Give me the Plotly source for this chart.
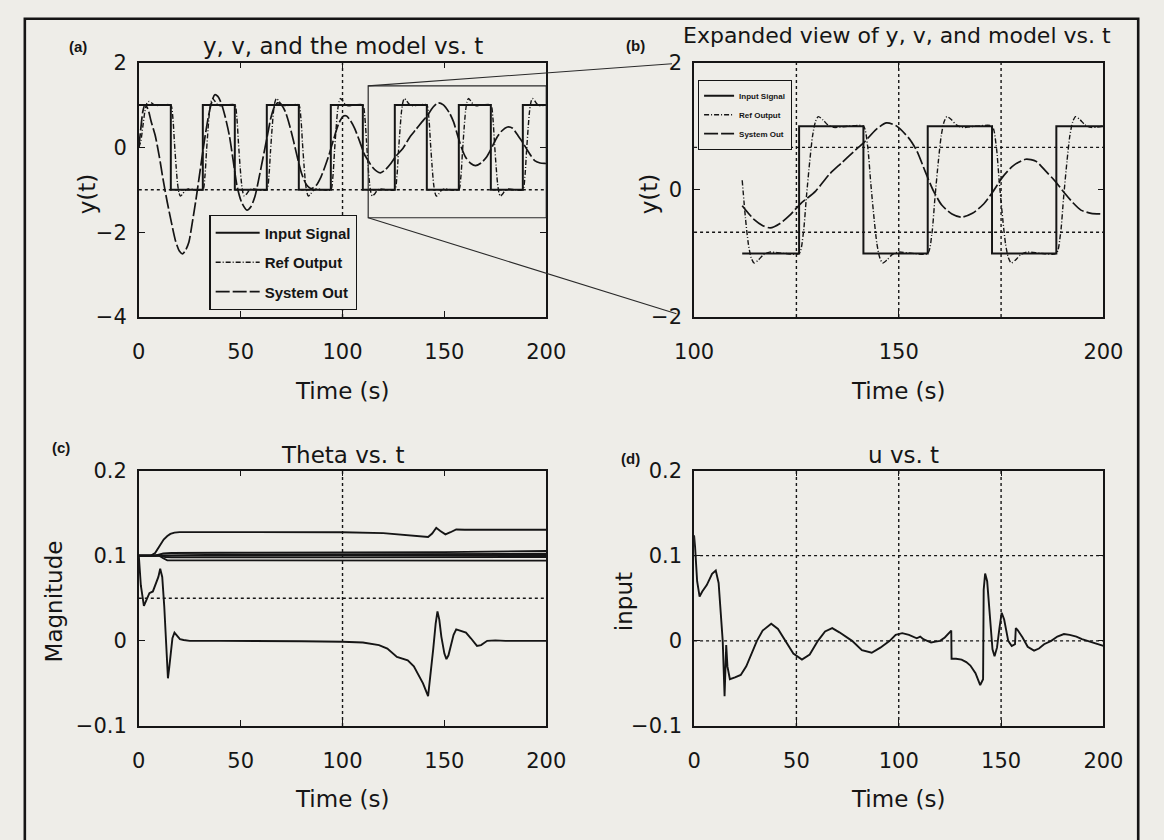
import plotly.graph_objects as go

BG = "#eeede8"
INK = "#151515"
FONT = "DejaVu Sans"
BOLD = "Liberation Sans"

# ---------------- data ----------------
# square-wave command signal
t_input = [0, 15.71, 15.71, 31.42, 31.42, 47.12, 47.12, 62.83, 62.83, 78.54,
           78.54, 94.25, 94.25, 109.96, 109.96, 111.76, 125.66, 125.66, 141.37, 141.37,
           157.08, 157.08, 172.79, 172.79, 188.50, 188.50, 200]
y_input = [1, 1, -1, -1, 1, 1, -1, -1, 1, 1,
           -1, -1, 1, 1, -1, -1, -1, 1, 1, -1,
           -1, 1, 1, -1, -1, 1, 1]

# reference model output
t_ref = [0, 1, 2, 3, 4, 5, 6.5, 8, 10, 12.5,
         15.71, 16.71, 17.51, 18.31, 19.01, 19.71, 20.41, 21.51, 22.71, 24.21, 27.71,
         31.42, 32.42, 33.22, 34.02, 34.72, 35.42, 36.12, 37.22, 38.42, 39.92, 43.42,
         47.12, 48.12, 48.92, 49.72, 50.42, 51.12, 51.82, 52.92, 54.12, 55.62, 59.12,
         62.83, 63.83, 64.63, 65.43, 66.13, 66.83, 67.53, 68.63, 69.83, 71.33, 74.83,
         78.54, 79.54, 80.34, 81.14, 81.84, 82.54, 83.24, 84.34, 85.54, 87.04, 90.54,
         94.25, 95.25, 96.05, 96.85, 97.55, 98.25, 98.95, 100.05, 101.25, 102.75, 106.25,
         109.96, 110.96, 111.76, 112.56, 113.26, 113.96, 114.66, 115.76, 116.96, 118.46, 121.96,
         125.66, 126.66, 127.46, 128.26, 128.96, 129.66, 130.36, 131.46, 132.66, 134.16, 137.66,
         141.37, 142.37, 143.17, 143.97, 144.67, 145.37, 146.07, 147.17, 148.37, 149.87, 153.37,
         157.08, 158.08, 158.88, 159.68, 160.38, 161.08, 161.78, 162.88, 164.08, 165.58, 169.08,
         172.79, 173.79, 174.59, 175.39, 176.09, 176.79, 177.49, 178.59, 179.79, 181.29, 184.79,
         188.50, 189.50, 190.30, 191.10, 191.80, 192.50, 193.20, 194.30, 195.50, 197.00, 200.00]
y_ref = [0, 0.15, 0.5, 0.85, 1.04, 1.08, 1.04, 0.99, 0.99, 1.0,
         1.0, 0.7, 0.1, -0.45, -0.85, -1.07, -1.15, -1.1, -1.02, -0.98, -1.0,
         -1.0, -0.7, -0.1, 0.45, 0.85, 1.07, 1.15, 1.1, 1.02, 0.98, 1.0,
         1.0, 0.7, 0.1, -0.45, -0.85, -1.07, -1.15, -1.1, -1.02, -0.98, -1.0,
         -1.0, -0.7, -0.1, 0.45, 0.85, 1.07, 1.15, 1.1, 1.02, 0.98, 1.0,
         1.0, 0.7, 0.1, -0.45, -0.85, -1.07, -1.15, -1.1, -1.02, -0.98, -1.0,
         -1.0, -0.7, -0.1, 0.45, 0.85, 1.07, 1.15, 1.1, 1.02, 0.98, 1.0,
         1.0, 0.7, 0.15, -0.45, -0.85, -1.07, -1.15, -1.1, -1.02, -0.98, -1.0,
         -1.0, -0.7, -0.1, 0.45, 0.85, 1.07, 1.15, 1.1, 1.02, 0.98, 1.0,
         1.0, 0.7, 0.1, -0.45, -0.85, -1.07, -1.15, -1.1, -1.02, -0.98, -1.0,
         -1.0, -0.7, -0.1, 0.45, 0.85, 1.07, 1.15, 1.1, 1.02, 0.98, 1.0,
         1.0, 0.7, 0.1, -0.45, -0.85, -1.07, -1.15, -1.1, -1.02, -0.98, -1.0,
         -1.0, -0.7, -0.1, 0.45, 0.85, 1.07, 1.15, 1.1, 1.02, 0.98, 1.0]

# plant (system) output
t_sys = [0, 1, 2, 3, 4.5, 6, 8, 10, 12, 14,
         16, 18, 20, 21.5, 23, 24.6, 26, 27.8, 29.5, 31,
         32.5, 34.1, 35.7, 37.3, 38.8, 40.4, 42.4, 44.4, 46.3, 48.3,
         50.5, 53.1, 55, 57, 59, 61, 63, 64.9, 66.5, 68.1,
         70, 72, 74, 76, 78, 80, 82.3, 84.7, 87, 89.4,
         91.4, 93.4, 95.7, 98.1, 100.5, 102, 104, 106, 108.5, 110.8,
         111.76, 114.7, 116.7, 118.6, 121, 123.4, 126, 129.7, 133, 136,
         139, 141.6, 144.5, 147, 149.5, 152.6, 154.5, 156.5, 158.5, 160.5,
         163, 165.3, 168, 170.8, 173, 175.5, 178, 181, 183.5, 185.8,
         188, 190.5, 192.5, 194.5, 197, 199.2, 200]
y_sys = [0, 0.45, 0.85, 1.0, 0.9, 0.62, 0.29, -0.2, -0.78, -1.3,
         -1.77, -2.2, -2.45, -2.51, -2.42, -2.23, -1.85, -1.31, -0.75, -0.24,
         0.25, 0.71, 1.05, 1.24, 1.2, 1.05, 0.72, 0.29, -0.3, -0.93,
         -1.3, -1.48, -1.4, -1.16, -0.72, -0.24, 0.25, 0.71, 0.95, 1.05,
         1.0, 0.83, 0.52, 0.14, -0.27, -0.63, -0.88, -0.97, -0.9, -0.7,
         -0.45, -0.17, 0.2, 0.56, 0.74, 0.74, 0.62, 0.44, 0.13, -0.17,
         -0.25, -0.47, -0.56, -0.6, -0.53, -0.4, -0.22, -0.02, 0.24, 0.42,
         0.6, 0.75, 0.95, 1.05, 1.0, 0.8, 0.6, 0.28, -0.02, -0.24,
         -0.38, -0.43, -0.37, -0.22, -0.03, 0.21, 0.38, 0.48, 0.45, 0.3,
         0.15, -0.05, -0.2, -0.32, -0.37, -0.38, -0.38]

# adaptive parameter estimates (theta)
t_th1 = [0, 6, 8, 10, 12.2, 14, 15.5, 17.5, 20, 40, 60, 80, 100, 120, 135, 142,
         144, 146, 148, 150.5, 153, 155.8, 160, 170, 185, 200]
y_th1 = [0.1, 0.1, 0.103, 0.11, 0.119, 0.123, 0.1255, 0.127, 0.1277, 0.1277, 0.1277,
         0.1277, 0.1275, 0.1265, 0.124, 0.122, 0.126, 0.1327, 0.129, 0.125, 0.1275,
         0.1308, 0.1305, 0.1303, 0.1305, 0.1305]
t_th2 = [0, 8, 12, 16, 40, 100, 150, 200]
y_th2 = [0.1, 0.1, 0.1025, 0.1032, 0.1035, 0.1037, 0.1042, 0.1055]
t_th3 = [0, 12, 40, 100, 150, 200]
y_th3 = [0.1, 0.1, 0.1012, 0.1015, 0.1018, 0.1022]
t_th4 = [0, 12, 40, 100, 150, 200]
y_th4 = [0.1, 0.1, 0.1, 0.1002, 0.1005, 0.1008]
t_th5 = [0, 10, 13, 16, 100, 200]
y_th5 = [0.1, 0.1, 0.0985, 0.098, 0.098, 0.0985]
t_th6 = [0, 10, 12, 14, 16, 100, 200]
y_th6 = [0.1, 0.1, 0.097, 0.0945, 0.0945, 0.0943, 0.0942]
t_th7 = [0, 1, 2.5, 4, 5.2, 6.9, 8.5, 9.6, 10.5, 11.5,
         12.5, 13.5, 14.3, 15, 15.7, 16.5, 17.5, 19, 20.2, 22,
         25, 40, 60, 80, 100, 110, 117.9, 122, 126.7, 129,
         132, 135, 137.3, 139.5, 142, 143.3, 144.5, 145.7, 146.6, 147.5,
         148.5, 150, 151, 152, 153, 154.5, 155.8, 158, 160.6, 163,
         166, 168, 171, 175, 180, 190, 200]
y_th7 = [0.1, 0.065, 0.041, 0.05, 0.056, 0.058, 0.068, 0.075, 0.0846, 0.075,
         0.04, 0.0, -0.044, -0.03, -0.013, 0.003, 0.0096, 0.006, 0.002, 0.001,
         0.0, 0.0, 0.0, -0.0005, -0.001, -0.002, -0.005, -0.009, -0.019, -0.021,
         -0.023, -0.03, -0.040, -0.05, -0.065, -0.04, -0.01, 0.02, 0.0346, 0.025,
         0.005, -0.015, -0.0215, -0.017, -0.007, 0.007, 0.0135, 0.012, 0.0096, 0.003,
         -0.006, -0.005, 0.0, 0.0005, 0.0, 0.0, 0.0]
theta_series = [(t_th1, y_th1), (t_th2, y_th2), (t_th3, y_th3), (t_th4, y_th4),
                (t_th5, y_th5), (t_th6, y_th6), (t_th7, y_th7)]

# control input u
t_u = [0, 0.5, 1.5, 2.7, 4, 6.2, 8.8, 10.6, 12, 13,
       14, 14.9, 15.71, 16.3, 17.5, 20, 22.8, 25.5, 28, 30.7,
       33.5, 37.7, 41, 44.8, 48.5, 52.7, 56.5, 60.5, 64, 67.5,
       71, 77.2, 82, 86.8, 91, 95.6, 98.5, 101.7, 105, 108.8,
       110.5, 112, 115.8, 118, 120.2, 122.5, 124.6, 125.66, 125.8, 128,
       130.7, 133, 135, 137.5, 139.8, 141.2, 141.5, 142.2, 143.2, 144.5,
       145.8, 146.8, 148, 149.2, 150.3, 151.5, 153.5, 155.2, 156.8, 157.2,
       158, 160.5, 163, 166.1, 168.5, 171, 174.5, 177.5, 180.7, 183.5,
       186.8, 189.5, 192, 196, 200]
y_u = [0.124, 0.11, 0.07, 0.052, 0.058, 0.0655, 0.0788, 0.0826, 0.068, 0.03,
       0.0, -0.065, -0.005, -0.03, -0.045, -0.043, -0.040, -0.03, -0.015, 0.0,
       0.012, 0.02, 0.014, 0.0, -0.015, -0.022, -0.016, 0.0, 0.011, 0.015,
       0.01, 0.0, -0.011, -0.014, -0.008, 0.0, 0.007, 0.009, 0.007, 0.003,
       0.005, 0.002, -0.002, -0.001, 0.0, 0.004, 0.01, 0.012, -0.021, -0.021,
       -0.022, -0.025, -0.029, -0.038, -0.052, -0.045, 0.06, 0.079, 0.07, 0.03,
       -0.01, -0.018, -0.008, 0.015, 0.033, 0.025, 0.0, -0.006, -0.004, 0.015,
       0.013, 0.004, -0.007, -0.0115, -0.009, -0.004, 0.0, 0.005, 0.008, 0.007,
       0.005, 0.002, 0.0, -0.003, -0.006]

# expanded window and the zoom box drawn on panel (a)
EXPAND_START = 111.76
ZOOM_BOX = dict(x0=112.6, x1=200, y0=-1.66, y1=1.45)
ZOOM_TARGETS = [(94.6, 1.98), (95.7, -1.95)]  # ends of the pointer lines in (b) data units

# dotted reference lines for each panel
GRID_A_X, GRID_A_Y = [100], [-1]
GRID_B_X, GRID_B_Y = [125, 150, 175], [-0.667, 0.667]
GRID_C_X, GRID_C_Y = [100], [0.05]
GRID_D_X, GRID_D_Y = [50, 100, 150], [0, 0.1]

# ---------------- layout geometry ----------------
XL = [0.1057, 0.4682]
XR = [0.5997, 0.9639]
YT = [0.6262, 0.9381]
YB = [0.125, 0.4381]
RANGE_A = ([0, 200], [-4, 2])
RANGE_B = ([100, 200], [-2, 2])


def window(ts, ys, start):
    pairs = [(t, y) for t, y in zip(ts, ys) if t >= start]
    return [p[0] for p in pairs], [p[1] for p in pairs]


def to_paper(v, dom, rng):
    return dom[0] + (v - rng[0]) / (rng[1] - rng[0]) * (dom[1] - dom[0])


fig = go.Figure()

SIG_LINE = dict(color=INK, width=2.0)
REF_LINE = dict(color=INK, width=1.4, dash="5px,2px,1px,2px", shape="spline", smoothing=0.7)
SYS_LINE = dict(color=INK, width=1.7, dash="14px,3px", shape="spline", smoothing=0.7)

series = [("Input Signal", t_input, y_input, SIG_LINE),
          ("Ref Output", t_ref, y_ref, REF_LINE),
          ("System Out", t_sys, y_sys, SYS_LINE)]

for name, ts, ys, ln in series:
    fig.add_trace(go.Scatter(x=ts, y=ys, mode="lines", name=name, line=ln,
                             xaxis="x", yaxis="y", legend="legend",
                             legendgroup="a_" + name))
for name, ts, ys, ln in series:
    wt, wy = window(ts, ys, EXPAND_START)
    fig.add_trace(go.Scatter(x=wt, y=wy, mode="lines", name=name, line=ln,
                             xaxis="x2", yaxis="y2", legend="legend2",
                             legendgroup="b_" + name))
for ts, ys in theta_series:
    fig.add_trace(go.Scatter(x=ts, y=ys, mode="lines", line=dict(color=INK, width=1.9),
                             xaxis="x3", yaxis="y3", showlegend=False))
fig.add_trace(go.Scatter(x=t_u, y=y_u, mode="lines", line=dict(color=INK, width=1.9),
                         xaxis="x4", yaxis="y4", showlegend=False))

axis_common = dict(showline=True, linewidth=1.6, linecolor=INK, mirror="ticks",
                   ticks="inside", ticklen=6, tickwidth=1.4, tickcolor=INK,
                   showgrid=False, zeroline=False,
                   tickfont=dict(family=FONT, size=21, color=INK))
xcommon = dict(axis_common, ticklabelstandoff=15)
ycommon = dict(axis_common, ticklabelstandoff=6)

fig.update_layout(
    width=1164, height=840,
    margin=dict(l=0, r=0, t=0, b=0),
    paper_bgcolor=BG, plot_bgcolor=BG,
    xaxis=dict(xcommon, domain=XL, anchor="y", range=RANGE_A[0], tickvals=[0, 50, 100, 150, 200]),
    yaxis=dict(ycommon, domain=YT, anchor="x", range=RANGE_A[1], tickvals=[-4, -2, 0, 2]),
    xaxis2=dict(xcommon, domain=XR, anchor="y2", range=RANGE_B[0], tickvals=[100, 150, 200]),
    yaxis2=dict(ycommon, domain=YT, anchor="x2", range=RANGE_B[1], tickvals=[-2, 0, 2]),
    xaxis3=dict(xcommon, domain=XL, anchor="y3", range=[0, 200], tickvals=[0, 50, 100, 150, 200]),
    yaxis3=dict(ycommon, domain=YB, anchor="x3", range=[-0.1, 0.2], tickvals=[-0.1, 0, 0.1, 0.2]),
    xaxis4=dict(xcommon, domain=XR, anchor="y4", range=[0, 200], tickvals=[0, 50, 100, 150, 200]),
    yaxis4=dict(ycommon, domain=YB, anchor="x4", range=[-0.1, 0.2], tickvals=[-0.1, 0, 0.1, 0.2]),
    legend=dict(x=196 / 1164, y=1 - 209 / 840, xanchor="left", yanchor="top",
                bgcolor=BG, bordercolor=INK, borderwidth=1.4,
                font=dict(family=BOLD, size=15, color=INK, weight="bold"),
                tracegroupgap=7, itemwidth=44, traceorder="grouped"),
    legend2=dict(x=702 / 1164, y=1 - 70 / 840, xanchor="left", yanchor="top",
                 bgcolor=BG, bordercolor=INK, borderwidth=1.2,
                 font=dict(family=BOLD, size=8, color=INK, weight="bold"),
                 tracegroupgap=0, itemwidth=30, traceorder="grouped"),
    showlegend=True,
)

shapes = []
dot = dict(color=INK, width=1.4, dash="dot")
for xr_, yr_, gx, gy in [("x", "y", GRID_A_X, GRID_A_Y), ("x2", "y2", GRID_B_X, GRID_B_Y),
                         ("x3", "y3", GRID_C_X, GRID_C_Y), ("x4", "y4", GRID_D_X, GRID_D_Y)]:
    for v in gx:
        shapes.append(dict(type="line", xref=xr_, yref=yr_ + " domain", x0=v, x1=v, y0=0, y1=1,
                           line=dot, layer="below"))
    for v in gy:
        shapes.append(dict(type="line", xref=xr_ + " domain", yref=yr_, x0=0, x1=1, y0=v, y1=v,
                           line=dot, layer="below"))

# zoom box on panel (a) and the pointer lines to panel (b)
shapes.append(dict(type="rect", xref="x", yref="y", line=dict(color="#2a2a2a", width=1.2),
                   **ZOOM_BOX))
corners = [(ZOOM_BOX["x0"], ZOOM_BOX["y1"]), (ZOOM_BOX["x0"], ZOOM_BOX["y0"])]
for (ax, ay), (bx, by) in zip(corners, ZOOM_TARGETS):
    shapes.append(dict(type="line", xref="paper", yref="paper",
                       x0=to_paper(ax, XL, RANGE_A[0]), y0=to_paper(ay, YT, RANGE_A[1]),
                       x1=to_paper(bx, XR, RANGE_B[0]), y1=to_paper(by, YT, RANGE_B[1]),
                       line=dict(color="#2a2a2a", width=1.1)))

# outer frame
shapes.append(dict(type="rect", xref="paper", yref="paper", x0=5 / 1164, x1=1158 / 1164,
                   y0=-0.05, y1=1 - 7 / 840, line=dict(color=INK, width=2.6)))
fig.update_layout(shapes=shapes)

ann = []
tfont = dict(family=FONT, size=23, color=INK)
bfont = dict(family=BOLD, size=15, color=INK, weight="bold")


def text(x, y, s, font, angle=0, yanchor="middle"):
    ann.append(dict(x=x, y=y, xref="paper", yref="paper", text=s, showarrow=False,
                    xanchor="center", yanchor=yanchor, font=font, textangle=angle))


text(sum(XL) / 2, 1 - 35 / 840, "y, v, and the model vs. t", tfont)
text(908 / 1164, 1 - 39 / 840, "Expanded view of y, v, and model vs. t",
     dict(tfont, size=22), yanchor="bottom")
text(sum(XL) / 2, 1 - 456 / 840, "Theta vs. t", tfont)
text(915 / 1164, 1 - 456 / 840, "u vs. t", tfont)
text(60 / 1164, 1 - 36 / 840, "(a)", bfont)
text(637 / 1164, 1 - 34 / 840, "(b)", bfont)
text(42 / 1164, 1 - 448 / 840, "(c)", bfont)
text(632 / 1164, 1 - 460 / 840, "(d)", bfont)
text(sum(XL) / 2, 1 - 390 / 840, "Time (s)", tfont)
text(sum(XR) / 2, 1 - 390 / 840, "Time (s)", tfont)
text(sum(XL) / 2, 1 - 810 / 840, "Time (s)", tfont)
text(sum(XR) / 2, 1 - 810 / 840, "Time (s)", tfont)
text(69 / 1164, 1 - 187 / 840, "y(t)", tfont, -90)
text(651 / 1164, 1 - 187 / 840, "y(t)", tfont, -90)
text(35 / 1164, 1 - 607 / 840, "Magnitude", tfont, -90)
text(625 / 1164, 1 - 607 / 840, "input", tfont, -90)
fig.update_layout(annotations=ann)

fig.write_html("out.html")
